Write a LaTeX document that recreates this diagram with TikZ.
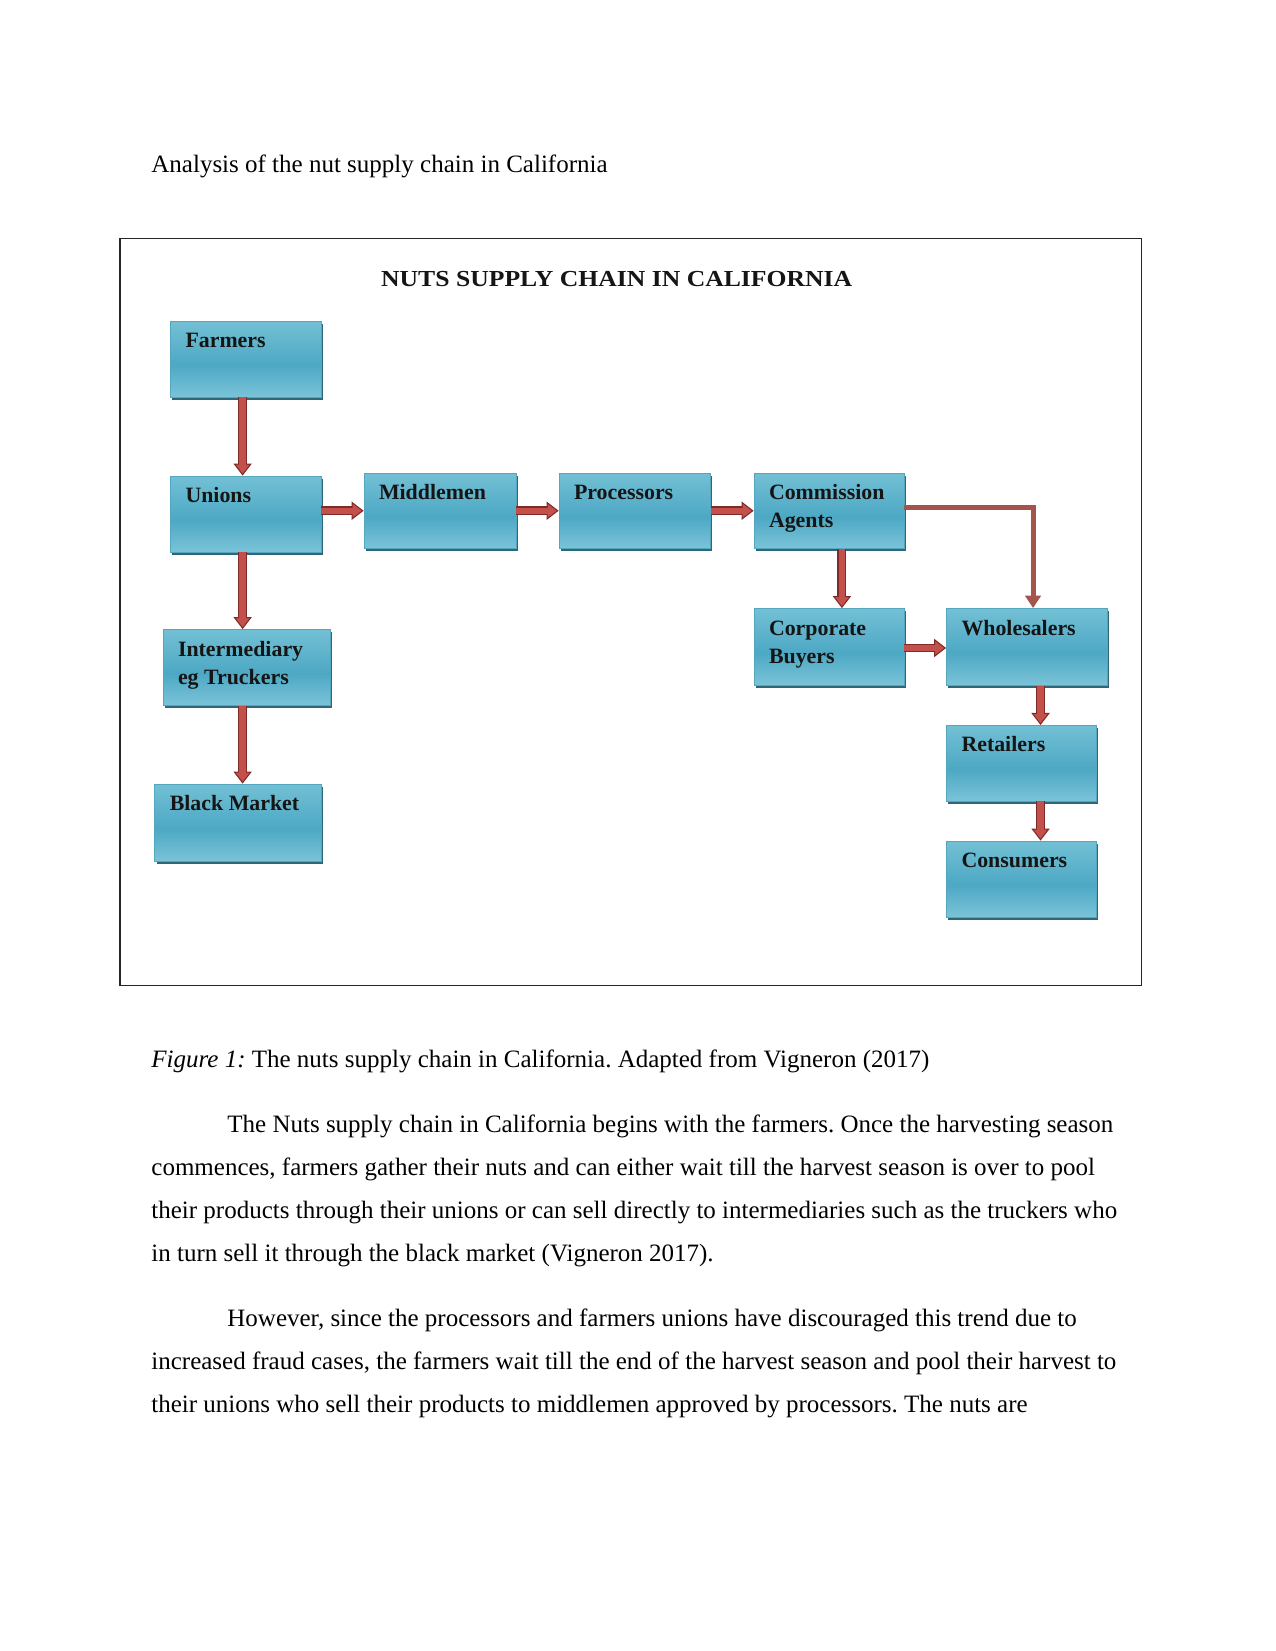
\documentclass[tikz,border=0pt]{standalone}
\usepackage{fontspec}
\setmainfont{Liberation Serif}
\newfontfamily\titlefont[FakeStretch=1.12]{Liberation Serif}
\usetikzlibrary{arrows.meta,calc,fit,shadows}
\frenchspacing
\definecolor{bxA}{HTML}{7CC3D7}
\definecolor{bxB}{HTML}{93D2E3}
\definecolor{bxC}{HTML}{4DA8C4}
\definecolor{bxD}{HTML}{6CBCD2}
\definecolor{bxE}{HTML}{96D3E4}
\definecolor{bxborder}{HTML}{55A7C0}
\definecolor{bxdark}{HTML}{2E6878}
\definecolor{arrred}{HTML}{C4504C}
\definecolor{arrdark}{HTML}{7E2A27}
\definecolor{lconn}{HTML}{A5544B}
\definecolor{lbltext}{HTML}{151515}
\pgfdeclareverticalshading{boxshade}{100bp}{color(0bp)=(bxA); color(14bp)=(bxB); color(46bp)=(bxC); color(70bp)=(bxD); color(100bp)=(bxE)}
\tikzset{
  txt/.style={anchor=base west, inner sep=0pt, font=\fontsize{12pt}{14pt}\selectfont},
  nbox/.style={inner sep=0pt, draw=bxborder, line width=0.4pt, shade, shading=boxshade,
    drop shadow={shadow xshift=0.9pt, shadow yshift=-1.4pt, fill=bxdark, opacity=1}},
  nlabel/.style={anchor=base west, inner sep=0pt, text=lbltext, font=\bfseries\fontsize{10.5pt}{12pt}\selectfont},
  barrow/.style={draw=arrred, line width=3.1pt, shorten >=4.8pt,
    preaction={draw=arrdark, line width=4.3pt, shorten >=0pt,
      -{Triangle[length=5.8pt,width=8.8pt,fill=arrred,line width=0.5pt]}}},
  larrow/.style={draw=lconn, line width=2.4pt, -{Triangle[length=6pt,width=7.4pt]}}
}
\newcommand\nbox[7]{%
  \node[nbox, fit={(#2,#3) (#4,#5)}] (#1) {};
  \node[nlabel] (#1-a) at ($(#1.north west)+(15,27)$) {#6};
  \node[nlabel] (#1-b) at ($(#1.north west)+(15,55)$) {#7};
}
\begin{document}
\begin{tikzpicture}[x=0.48pt,y=-0.48pt]
\useasboundingbox[fill=white] (0,0) rectangle (1275,1651);

\node[txt] (head) at (151,173) {Analysis of the nut supply chain in California};

\draw[line width=0.7pt, draw=black!85] (120,238.3) rectangle (1141.7,985.7);

\node[anchor=base, inner sep=0pt, text=lbltext, font=\titlefont\bfseries\fontsize{11pt}{13pt}\selectfont] (title) at (616.7,286.7) {NUTS SUPPLY CHAIN IN CALIFORNIA};

\nbox{farm}{170.5}{321}{321}{397}{Farmers}{}
\nbox{union}{170.5}{476}{321}{552}{Unions}{}
\nbox{mid}{364}{473}{516}{548.5}{Middlemen}{}
\nbox{proc}{559}{473}{710.6}{548.5}{Processors}{}
\nbox{comm}{754}{473}{904}{548.5}{Commission}{Agents}
\nbox{inter}{163}{629.5}{330.6}{705.4}{Intermediary}{eg Truckers}
\nbox{black}{154.8}{784}{321}{861}{Black Market}{}
\nbox{corp}{754}{608.5}{904}{685.4}{Corporate}{Buyers}
\nbox{whole}{946.5}{608.5}{1107.5}{685.4}{Wholesalers}{}
\nbox{ret}{946.5}{725.4}{1096}{801}{Retailers}{}
\nbox{cons}{946.5}{841}{1096}{917}{Consumers}{}

% vertical block arrows
\draw[barrow] ([xshift=-1.5pt]farm.south) -- ([xshift=-1.5pt]farm.south |- union.north);
\draw[barrow] ([xshift=-1.5pt]union.south) -- ([xshift=-1.5pt]union.south |- inter.north);
\draw[barrow] ([xshift=-1.5pt]union.south |- inter.south) -- ([xshift=-1.5pt]union.south |- black.north);
\draw[barrow] ([xshift=6.2pt]comm.south) -- ([xshift=6.2pt]comm.south |- corp.north);
\draw[barrow] ([xshift=6.5pt]whole.south) -- ([xshift=6.5pt]whole.south |- ret.north);
\draw[barrow] ([xshift=6.5pt]whole.south |- ret.south) -- ([xshift=6.5pt]whole.south |- cons.north);
% horizontal block arrows
\draw[barrow] (union.east |- mid.west) -- (mid.west);
\draw[barrow] (mid.east) -- (proc.west);
\draw[barrow] (proc.east) -- (comm.west);
\draw[barrow] ([yshift=-0.5pt]corp.east) -- ([yshift=-0.5pt]whole.west |- corp.east);
% elbow connector
\draw[larrow] ([yshift=1.5pt]comm.east) -| ([xshift=2.9pt]whole.north);

\node[txt] (cap) at (151,1067) {\textit{Figure 1:} The nuts supply chain in California. Adapted from Vigneron (2017)};

\node[txt] (p1) at (227,1132) {The Nuts supply chain in California begins with the farmers. Once the harvesting season};
\node[txt] (p2) at (151,1175) {commences, farmers gather their nuts and can either wait till the harvest season is over to pool};
\node[txt] (p3) at (151,1218) {their products through their unions or can sell directly to intermediaries such as the truckers who};
\node[txt] (p4) at (151,1261.5) {in turn sell it through the black market (Vigneron 2017).};
\node[txt] (q1) at (227,1326.5) {However, since the processors and farmers unions have discouraged this trend due to};
\node[txt] (q2) at (151,1369.5) {increased fraud cases, the farmers wait till the end of the harvest season and pool their harvest to};
\node[txt] (q3) at (151,1412) {their unions who sell their products to middlemen approved by processors. The nuts are};
\end{tikzpicture}
\end{document}
